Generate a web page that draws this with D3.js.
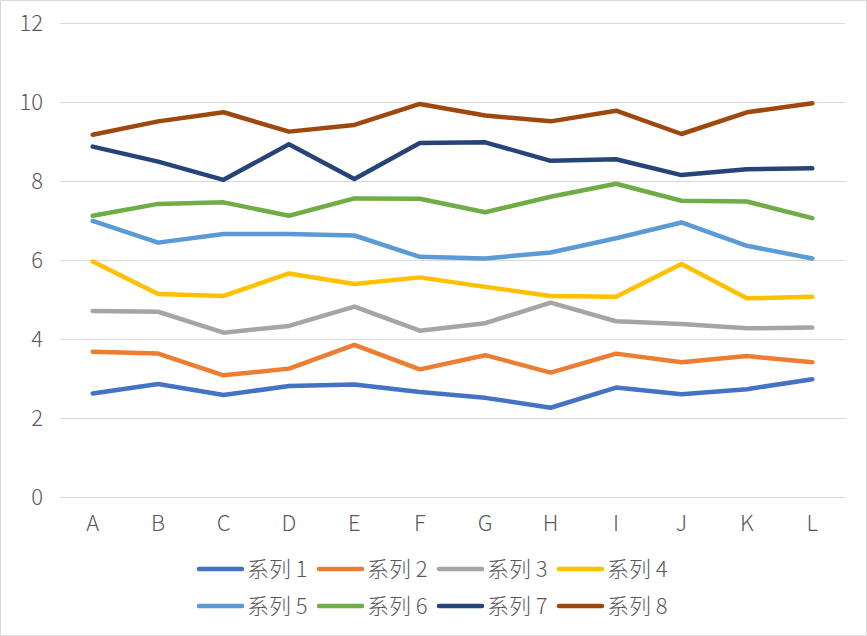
<!DOCTYPE html>
<html>
<head>
<meta charset="utf-8">
<script src="https://cdn.jsdelivr.net/npm/d3@7"></script>
<style>
  body { margin: 0; background: #fff; }
  text { font-family: "Noto Sans CJK SC", "Noto Sans", sans-serif; font-weight: 300; fill: #595959; }
</style>
</head>
<body>
<div id="chart"></div>
<script>
// data
const categories = ['A', 'B', 'C', 'D', 'E', 'F', 'G', 'H', 'I', 'J', 'K', 'L'];
const seriesNames = ['系列 1', '系列 2', '系列 3', '系列 4', '系列 5', '系列 6', '系列 7', '系列 8'];
const s1 = [2.62, 2.86, 2.58, 2.81, 2.85, 2.66, 2.51, 2.26, 2.77, 2.60, 2.73, 2.98];
const s2 = [3.68, 3.63, 3.08, 3.25, 3.85, 3.23, 3.59, 3.15, 3.63, 3.41, 3.57, 3.41];
const s3 = [4.71, 4.69, 4.16, 4.33, 4.82, 4.21, 4.40, 4.92, 4.45, 4.38, 4.27, 4.29];
const s4 = [5.96, 5.14, 5.09, 5.66, 5.39, 5.56, 5.32, 5.09, 5.07, 5.90, 5.03, 5.07];
const s5 = [6.99, 6.44, 6.66, 6.66, 6.62, 6.08, 6.04, 6.19, 6.55, 6.95, 6.36, 6.04];
const s6 = [7.12, 7.42, 7.46, 7.12, 7.56, 7.55, 7.21, 7.60, 7.93, 7.50, 7.48, 7.06];
const s7 = [8.87, 8.49, 8.03, 8.93, 8.05, 8.96, 8.98, 8.51, 8.55, 8.15, 8.30, 8.32];
const s8 = [9.17, 9.51, 9.74, 9.25, 9.42, 9.95, 9.66, 9.51, 9.78, 9.19, 9.74, 9.97];
const yTicks = [0, 2, 4, 6, 8, 10, 12];
const colors = ['#4472C4', '#ED7D31', '#A5A5A5', '#FFC000', '#5B9BD5', '#70AD47', '#264478', '#9E480E'];

const allSeries = [s1, s2, s3, s4, s5, s6, s7, s8];

const width = 867, height = 636;
const margin = { top: 23, right: 22, bottom: 139, left: 60 };

const svg = d3.select('#chart').append('svg')
  .attr('width', width)
  .attr('height', height);

// outer border
svg.append('rect')
  .attr('x', 0.5).attr('y', 0.5)
  .attr('width', width - 1).attr('height', height - 1)
  .attr('fill', '#fff')
  .attr('stroke', '#d9d9d9');

const x = d3.scaleBand()
  .domain(categories)
  .range([margin.left, width - margin.right]);

const y = d3.scaleLinear()
  .domain([0, 12])
  .range([height - margin.bottom, margin.top]);

// gridlines
svg.append('g')
  .selectAll('line')
  .data(yTicks)
  .enter()
  .append('line')
  .attr('x1', margin.left)
  .attr('x2', width - margin.right)
  .attr('y1', d => Math.round(y(d)) + 0.5)
  .attr('y2', d => Math.round(y(d)) + 0.5)
  .attr('stroke', '#d9d9d9')
  .attr('stroke-width', 1);

// y axis labels
svg.append('g')
  .selectAll('text')
  .data(yTicks)
  .enter()
  .append('text')
  .attr('x', 43)
  .attr('y', d => y(d))
  .attr('dy', '0.35em')
  .attr('text-anchor', 'end')
  .style('font-size', '22px')
  .text(d => d);

// x axis labels
svg.append('g')
  .selectAll('text')
  .data(categories)
  .enter()
  .append('text')
  .attr('x', d => x(d) + x.bandwidth() / 2)
  .attr('y', 523)
  .attr('dy', '0.35em')
  .attr('text-anchor', 'middle')
  .style('font-size', '22px')
  .text(d => d);

// lines
const line = d3.line()
  .x((d, i) => x(categories[i]) + x.bandwidth() / 2)
  .y(d => y(d));

svg.append('g')
  .selectAll('path')
  .data(allSeries)
  .enter()
  .append('path')
  .attr('d', line)
  .attr('fill', 'none')
  .attr('stroke', (d, i) => colors[i])
  .attr('stroke-width', 4.5)
  .attr('stroke-linejoin', 'round')
  .attr('stroke-linecap', 'round');

// legend, two rows of four
const itemW = 120;
const legendLeft = 199;
const legend = svg.append('g');

const items = legend.selectAll('g')
  .data(seriesNames)
  .enter()
  .append('g')
  .attr('transform', (d, i) => `translate(${legendLeft + (i % 4) * itemW}, ${i < 4 ? 569 : 606})`);

items.append('line')
  .attr('x1', 0).attr('x2', 43)
  .attr('y1', 0).attr('y2', 0)
  .attr('stroke', (d, i) => colors[i])
  .attr('stroke-width', 4.5)
  .attr('stroke-linecap', 'round');

items.append('text')
  .attr('x', 48)
  .attr('y', 0)
  .attr('dy', '0.35em')
  .style('font-size', '22px')
  .text(d => d);
</script>
</body>
</html>
